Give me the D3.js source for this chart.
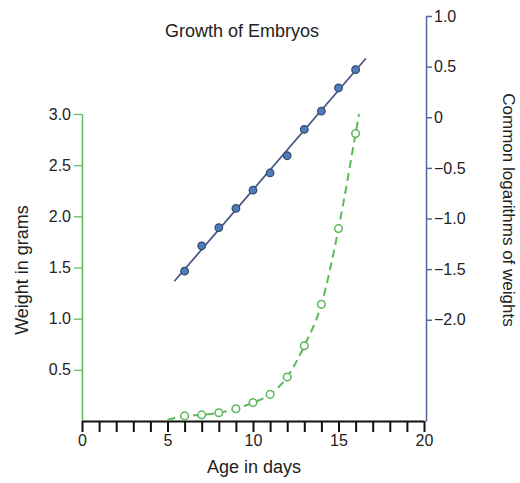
<!DOCTYPE html>
<html>
<head>
<meta charset="utf-8">
<script src="https://cdn.jsdelivr.net/npm/d3@7"></script>
<style>
  body { margin: 0; background: #fff; }
  text { font-family: "Liberation Sans", Arial, sans-serif; fill: #222; }
</style>
</head>
<body>
<div id="my_dataviz"></div>
<script>
// age in days for each measurement
var days = [6, 7, 8, 9, 10, 11, 12, 13, 14, 15, 16];
// weight in grams (open green circles)
var weights = [0.05, 0.06, 0.08, 0.12, 0.18, 0.26, 0.43, 0.735, 1.14, 1.88, 2.81];
// common log of weights (filled blue circles)
var logWeights = [-1.52, -1.27, -1.09, -0.90, -0.72, -0.55, -0.38, -0.12, 0.06, 0.29, 0.47];
// ends of the fitted straight line on the log scale
var fitDays = [5.4, 16.6];
var fitLogs = [-1.62, 0.58];
// ends of the dashed weight curve
var curveStart = {day: 5, w: 0.01};
var curveEnd = {day: 16.2, w: 3.0};

var leftTicks = [0.5, 1.0, 1.5, 2.0, 2.5, 3.0];
var rightTicks = [1.0, 0.5, 0, -0.5, -1.0, -1.5, -2.0];
var dayTicks = d3.range(0, 21);

var width = 520, height = 483;
var green = "#5cb85c", blue = "#55689e";

var svg = d3.select("#my_dataviz")
    .append("svg")
    .attr("width", width)
    .attr("height", height);

var x = d3.scaleLinear().domain([0, 20]).range([82, 424]);
var yW = d3.scaleLinear().domain([0, 3]).range([421, 114]);
var yL = d3.scaleLinear().domain([-3, 1]).range([421, 16]);

// left axis (grams)
var gLeft = svg.append("g")
    .attr("transform", "translate(" + x(0) + ",0)")
    .call(d3.axisLeft(yW).tickValues(leftTicks).tickSize(8).tickSizeOuter(0)
        .tickFormat(d3.format(".1f")));
gLeft.select(".domain").attr("stroke", green).attr("stroke-width", 1.5);
gLeft.selectAll(".tick line").attr("stroke", green).attr("stroke-width", 1.2);
gLeft.selectAll("text").style("font-size", "16px").attr("x", -11).attr("fill", "#222");

// right axis (logs)
var gRight = svg.append("g")
    .attr("transform", "translate(426,0)")
    .call(d3.axisRight(yL).tickValues(rightTicks).tickSize(6).tickSizeOuter(0)
        .tickFormat(function(d) { return d === 0 ? "0" : d3.format(".1f")(d); }));
gRight.select(".domain").attr("stroke", blue).attr("stroke-width", 1.5);
gRight.selectAll(".tick line").attr("stroke", blue).attr("stroke-width", 1.5);
gRight.selectAll("text").style("font-size", "16px").attr("x", 8).attr("fill", "#222");

// bottom axis (days)
var gBottom = svg.append("g")
    .attr("transform", "translate(0,421)")
    .call(d3.axisBottom(x).tickValues(dayTicks).tickSize(11).tickSizeOuter(0)
        .tickFormat(function(d) { return d % 5 === 0 ? d : ""; }));
gBottom.select(".domain").attr("stroke", "#111").attr("stroke-width", 2);
gBottom.selectAll(".tick line").attr("stroke", "#111").attr("stroke-width", 2);
gBottom.selectAll("text").style("font-size", "16px").attr("y", 14).attr("fill", "#222");

// fitted log line
var fit = fitDays.map(function(d, i) { return {day: d, v: fitLogs[i]}; });
svg.append("path")
    .datum(fit)
    .attr("fill", "none")
    .attr("stroke", "#4a5888")
    .attr("stroke-width", 1.8)
    .attr("d", d3.line()
        .x(function(d) { return x(d.day); })
        .y(function(d) { return yL(d.v); }));

// dashed weight curve
var curvePts = [curveStart].concat(days.map(function(d, i) { return {day: d, w: weights[i]}; }), [curveEnd]);
svg.append("path")
    .datum(curvePts)
    .attr("fill", "none")
    .attr("stroke", green)
    .attr("stroke-width", 2)
    .attr("stroke-dasharray", "8,5")
    .attr("d", d3.line()
        .curve(d3.curveMonotoneX)
        .x(function(d) { return x(d.day); })
        .y(function(d) { return yW(d.w); }));

// weight points
svg.append("g")
    .selectAll("circle")
    .data(days)
    .enter()
    .append("circle")
    .attr("cx", function(d) { return x(d); })
    .attr("cy", function(d, i) { return yW(weights[i]); })
    .attr("r", 3.8)
    .attr("fill", "#fff")
    .attr("stroke", green)
    .attr("stroke-width", 1.5);

// log points
svg.append("g")
    .selectAll("circle")
    .data(days)
    .enter()
    .append("circle")
    .attr("cx", function(d) { return x(d); })
    .attr("cy", function(d, i) { return yL(logWeights[i]); })
    .attr("r", 3.8)
    .attr("fill", "#4f7db8")
    .attr("stroke", "#34466e")
    .attr("stroke-width", 1.2);

// titles
svg.append("text")
    .attr("x", 242).attr("y", 37)
    .attr("text-anchor", "middle")
    .style("font-size", "18px")
    .text("Growth of Embryos");

svg.append("text")
    .attr("x", 254).attr("y", 473)
    .attr("text-anchor", "middle")
    .style("font-size", "18px")
    .text("Age in days");

svg.append("text")
    .attr("transform", "translate(28,270) rotate(-90)")
    .attr("text-anchor", "middle")
    .style("font-size", "18px")
    .text("Weight in grams");

svg.append("text")
    .attr("transform", "translate(503,210) rotate(90)")
    .attr("text-anchor", "middle")
    .style("font-size", "17px")
    .text("Common logarithms of weights");
</script>
</body>
</html>
